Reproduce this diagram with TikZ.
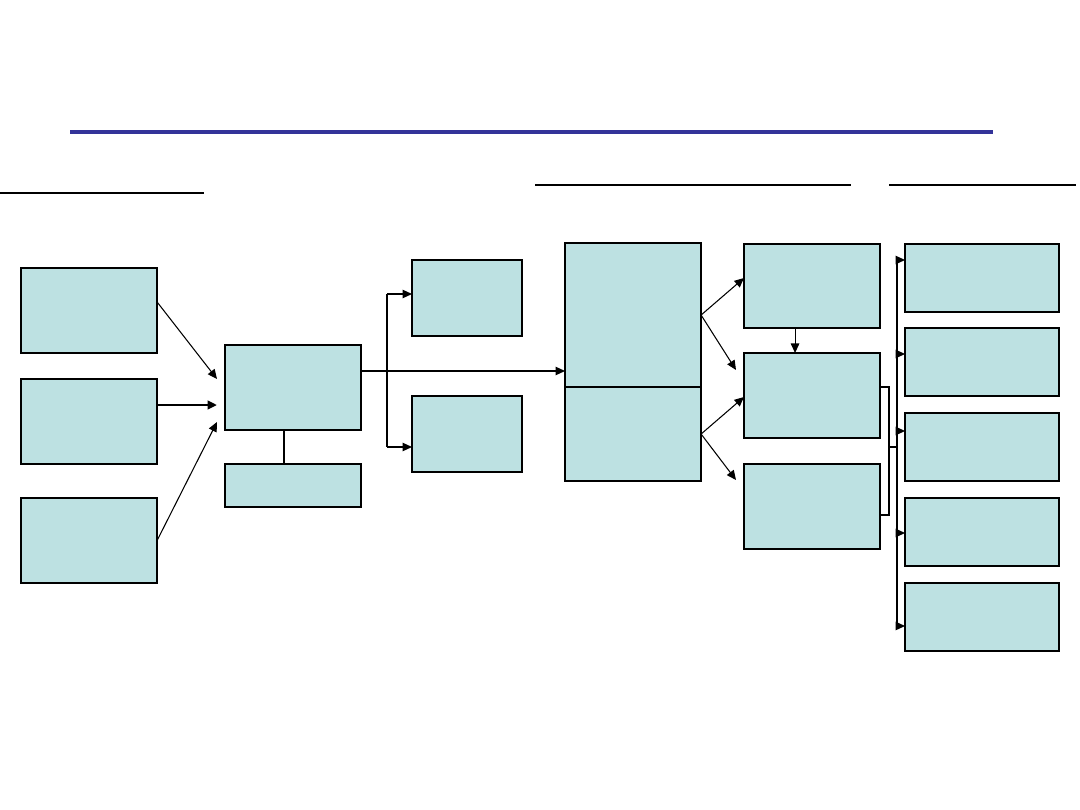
\documentclass[tikz,border=0pt]{standalone}
\usepackage{tikz}
\usetikzlibrary{arrows.meta,calc}
\definecolor{boxfill}{RGB}{189,225,226}
\definecolor{ruleblue}{RGB}{51,51,153}
\begin{document}
\begin{tikzpicture}[x=0.01cm,y=-0.01cm,
  box/.style={draw,fill=boxfill,line width=0.4pt,inner sep=0pt,outer sep=0pt,anchor=north west},
  arr/.style={-{Triangle[length=0.95mm,width=0.85mm]},line width=0.3pt}]
  \useasboundingbox (0,0) rectangle (1080,810);
  \draw[ruleblue,line width=1.1pt] (70,132) -- (993,132);
  \draw[line width=0.6pt] (0,193) -- (204,193);
  \draw[line width=0.6pt] (535,185) -- (851,185);
  \draw[line width=0.6pt] (889,185) -- (1076,185);
  % sources
  \foreach \y [count=\i] in {268,379,498}
    \node[box,minimum width=1.36cm,minimum height=0.85cm] (src\i) at (21,\y) {};
  \node[box,minimum width=1.36cm,minimum height=0.85cm] (hub) at (225,345) {};
  \node[box,minimum width=1.36cm,minimum height=0.43cm] (hubnote) at (225,464) {};
  \node[box,minimum width=1.10cm,minimum height=0.76cm] (up) at (412,260) {};
  \node[box,minimum width=1.10cm,minimum height=0.76cm] (down) at (412,396) {};
  \node[box,minimum width=1.36cm,minimum height=1.44cm] (stageA) at (565,243) {};
  \node[box,minimum width=1.36cm,minimum height=0.94cm] (stageB) at (565,387) {};
  \node[box,line width=0.6pt,minimum width=1.36cm,minimum height=0.84cm] (d1) at (744,244) {};
  \node[box,line width=0.6pt,minimum width=1.36cm,minimum height=0.85cm] (d2) at (744,353) {};
  \node[box,line width=0.6pt,minimum width=1.36cm,minimum height=0.85cm] (d3) at (744,464) {};
  \foreach \y/\d [count=\i] in {244/16,328/26,413/18,498/35,583/43} {
    \node[box,minimum width=1.54cm,minimum height=0.68cm] (out\i) at (905,\y) {};
    \coordinate (tap\i) at ($(out\i.north west)+(0,\d)$);
  }
  % into hub
  \coordinate (in1) at (217,379);
  \coordinate (in2) at (217,405);
  \coordinate (in3) at (217,422);
  \draw[arr] ($(src1.north east)+(0,34)$) -- (in1);
  \draw[arr,line width=0.8pt] (src2.east |- in2) -- (in2);
  \draw[arr] (src3.east) -- (in3);
  \draw ($(hub.south west)+(59,0)$) -- ($(hubnote.north west)+(59,0)$);
  \draw[line width=0.8pt] (hubnote.south west) -- (hubnote.south east);
  % hub out
  \coordinate (fork) at (387,371);
  \coordinate (forkt) at ($(up.north west)+(-25,34)$);
  \coordinate (forkb) at ($(down.north west)+(-25,51)$);
  \draw[arr] (hub.east |- fork) -- (stageA.west |- fork);
  \draw[line width=0.7pt] (forkt) -- (forkb);
  \draw[arr] (forkt) -- (up.west |- forkt);
  \draw[arr] (forkb) -- (down.west |- forkb);
  % stages
  \coordinate (d2in) at (736,370);
  \coordinate (d3in) at (736,480);
  \draw[arr] (stageA.east) -- ($(d1.north west)+(0,34)$);
  \draw[arr] (stageA.east) -- (d2in);
  \draw[arr] (stageB.east) -- ($(d2.north west)+(0,44)$);
  \draw[arr] (stageB.east) -- (d3in);
  \draw[arr] ($(d1.south)+(-17,0)$) -- ($(d2.north)+(-17,0)$);
  % bracket and bus
  \coordinate (brk) at (889,447);
  \coordinate (bus) at (897,447);
  \draw ($(d2.north east)+(0,34)$) -- ++(9,0) |- ($(d3.north east)+(0,51)$);
  \draw (brk) -- (bus);
  \draw (bus |- tap1) -- (bus |- tap5);
  \foreach \i in {1,...,5}
    \draw[arr] (bus |- tap\i) -- (tap\i);
\end{tikzpicture}
\end{document}
